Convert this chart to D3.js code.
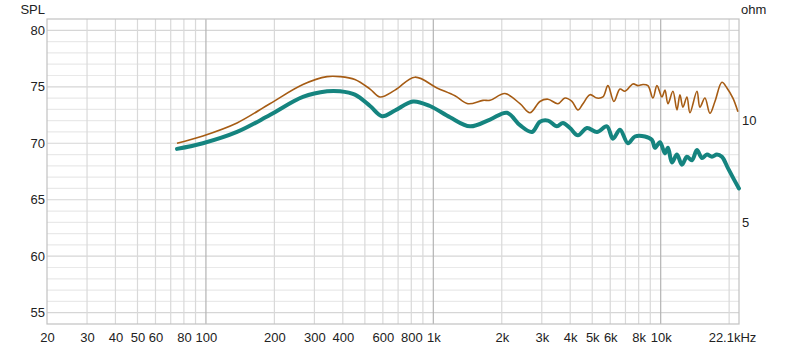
<!DOCTYPE html>
<html>
<head>
<meta charset="utf-8">
<script src="https://cdn.jsdelivr.net/npm/d3@7"></script>
<style>
  html, body { margin: 0; padding: 0; background: #fff; }
  svg { display: block; font-family: "Liberation Sans", Arial, Helvetica, sans-serif; }
</style>
</head>
<body>
<svg id="chart" width="800" height="350"></svg>
<script>
// ---- Data ----
const tealFreq = [74.6, 97, 137, 191, 267, 341, 389, 452, 527, 595, 678, 814, 966, 1184, 1450, 1776, 2109, 2405, 2716, 2944, 3193, 3497, 3716, 3990, 4326, 4740, 5244, 5802, 6166, 6620, 7178, 7704, 8526, 9152, 9434, 9924, 10440, 10764, 11210, 11790, 12400, 13042, 13722, 14436, 15186, 15974, 16804, 17672, 18588, 19758, 20992, 22090];
const tealSPL  = [69.5, 70.0, 71.0, 72.5, 74.1, 74.6, 74.6, 74.3, 73.3, 72.4, 72.9, 73.7, 73.3, 72.3, 71.5, 72.1, 72.7, 71.6, 71.0, 71.9, 72.0, 71.5, 71.8, 71.35, 70.7, 71.35, 71.0, 71.5, 70.4, 71.2, 70.0, 70.6, 70.6, 70.3, 69.6, 70.1, 69.1, 69.6, 68.3, 69.0, 68.1, 68.8, 68.5, 69.4, 68.7, 69.0, 68.8, 69.0, 68.8, 67.8, 66.8, 66.0];

const brownFreq = [74.6, 97, 137, 191, 267, 341, 389, 452, 527, 583, 678, 830, 1038, 1245, 1420, 1654, 1776, 2066, 2405, 2660, 2944, 3193, 3533, 3794, 4070, 4326, 4552, 4888, 5244, 5572, 5862, 6228, 6620, 6966, 7552, 7944, 8356, 8790, 9248, 9628, 10126, 10440, 10764, 11318, 11790, 12152, 12526, 13042, 13448, 14436, 14878, 15650, 16464, 17322, 18588, 19558, 20780, 21860];
const brownSPL  = [70.0, 70.65, 71.8, 73.5, 75.2, 75.9, 75.9, 75.65, 74.8, 74.1, 74.7, 75.85, 74.9, 74.2, 73.5, 73.8, 73.8, 74.4, 73.5, 72.7, 73.7, 73.9, 73.5, 74.0, 73.7, 72.95, 73.5, 74.3, 74.0, 74.1, 75.1, 73.7, 74.8, 74.6, 75.25, 75.1, 75.2, 75.1, 74.0, 75.1, 74.1, 74.7, 73.5, 74.6, 72.95, 74.3, 73.2, 74.1, 72.7, 74.6, 73.2, 74.0, 72.65, 73.7, 75.4, 74.9, 74.0, 72.8];

const xTickValues = [20, 30, 40, 50, 60, 80, 100, 200, 300, 400, 600, 800, 1000, 2000, 3000, 4000, 5000, 6000, 8000, 10000, 22100];
const xTickLabels = ["20", "30", "40", "50", "60", "80", "100", "200", "300", "400", "600", "800", "1k", "2k", "3k", "4k", "5k", "6k", "8k", "10k", "22.1kHz"];
const yTickValues = [55, 60, 65, 70, 75, 80];
const ohmTickValues = [5, 10];

// ---- Layout ----
const svg = d3.select("#chart");
const L = 47, R = 739, T = 19, B = 324;

const x = d3.scaleLog().domain([20, 22100]).range([L, R]);
const y = d3.scaleLinear().domain([54, 81]).range([B, T]);
const yOhm = d3.scaleLinear().domain([0, 15]).range([B, T]);

// grid: horizontal
const g = svg.append("g");
d3.range(55, 81).forEach(v => {
  g.append("line")
    .attr("x1", L).attr("x2", R)
    .attr("y1", y(v)).attr("y2", y(v))
    .attr("stroke", v % 5 === 0 ? "#d6d6d6" : "#e9e9e9")
    .attr("stroke-width", 1.2);
});
// grid: vertical
const vLines = [];
[10, 100, 1000, 10000].forEach(dec => {
  for (let m = 1; m <= 9; m++) {
    const f = dec * m;
    if (f > 20 && f < 22100) vLines.push(f);
  }
});
vLines.forEach(f => {
  const major = (f === 100 || f === 1000 || f === 10000);
  g.append("line")
    .attr("x1", x(f)).attr("x2", x(f))
    .attr("y1", T).attr("y2", B)
    .attr("stroke", major ? "#b4b4b4" : "#d9d9d9")
    .attr("stroke-width", 1.2);
});
// frame
svg.append("rect")
  .attr("x", L).attr("y", T).attr("width", R - L).attr("height", B - T)
  .attr("fill", "none").attr("stroke", "#c2c2c2").attr("stroke-width", 1.2);

// ---- Axes ----
const xAxis = d3.axisBottom(x).tickValues(xTickValues)
  .tickFormat((d, i) => xTickLabels[i]).tickSize(0).tickPadding(0);
const xg = svg.append("g").attr("transform", `translate(0,${B})`).call(xAxis);
xg.select(".domain").remove();
xg.selectAll("text")
  .attr("y", 18).attr("dy", 0)
  .attr("font-size", 13).attr("fill", "#222")
  .attr("font-family", "Liberation Sans, Arial, sans-serif")
  .attr("dx", d => d === 22100 ? -7 : 0);

const yAxis = d3.axisLeft(y).tickValues(yTickValues).tickSize(0).tickPadding(2);
const yg = svg.append("g").attr("transform", `translate(${L},0)`).call(yAxis);
yg.select(".domain").remove();
yg.selectAll("text").attr("font-size", 13).attr("fill", "#222")
  .attr("font-family", "Liberation Sans, Arial, sans-serif");

const oAxis = d3.axisRight(yOhm).tickValues(ohmTickValues).tickSize(0).tickPadding(3);
const og = svg.append("g").attr("transform", `translate(${R},0)`).call(oAxis);
og.select(".domain").remove();
og.selectAll("text").attr("font-size", 13).attr("fill", "#222")
  .attr("font-family", "Liberation Sans, Arial, sans-serif");

svg.append("text").attr("x", 45).attr("y", 14).attr("text-anchor", "end")
  .attr("font-size", 13).attr("fill", "#222").text("SPL");
svg.append("text").attr("x", 741).attr("y", 14).attr("text-anchor", "start")
  .attr("font-size", 13).attr("fill", "#222").text("ohm");

// ---- Curves ----
const line = d3.line()
  .x(d => x(d[0])).y(d => y(d[1]))
  .curve(d3.curveCatmullRom.alpha(0.5));

const brownData = brownFreq.map((f, i) => [f, brownSPL[i]]);
const tealData = tealFreq.map((f, i) => [f, tealSPL[i]]);

svg.append("path").datum(brownData).attr("d", line)
  .attr("fill", "none").attr("stroke", "#a65c14").attr("stroke-width", 1.6)
  .attr("stroke-linejoin", "round");
svg.append("path").datum(tealData).attr("d", line)
  .attr("fill", "none").attr("stroke", "#15847f").attr("stroke-width", 4)
  .attr("stroke-linejoin", "round").attr("stroke-linecap", "round");
</script>
</body>
</html>
